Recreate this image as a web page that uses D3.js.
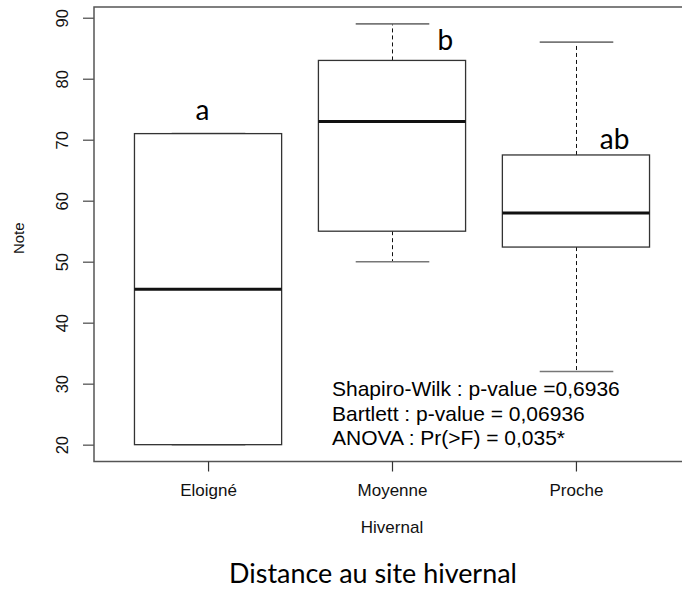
<!DOCTYPE html>
<html>
<head>
<meta charset="utf-8">
<script src="https://cdn.jsdelivr.net/npm/d3@7"></script>
<style>
  html, body { margin: 0; padding: 0; background: #fff; }
  svg { display: block; }
</style>
</head>
<body>
<svg id="chart" width="682" height="591"></svg>
<script>
// Groups along the x axis
const categories = ["Eloigné", "Moyenne", "Proche"];
// Five-number summaries of "Note" per group
const lowerWhisker = [20, 50, 32];
const lowerQuartile = [20, 55, 52.4];
const medians = [45.5, 73, 58];
const upperQuartile = [71, 83, 67.5];
const upperWhisker = [71, 89, 86];
// Y tick labels
const yTicks = [20, 30, 40, 50, 60, 70, 80, 90];
// Significance letters (Tukey groups) and where they sit, in data units
const letters = ["a", "b", "ab"];
const letterX = [0.97, 2.29, 3.21];
const letterY = [73.3, 84.7, 68.4];
// Test results written inside the plot
const statLines = [
  "Shapiro-Wilk : p-value =0,6936",
  "Bartlett : p-value = 0,06936",
  "ANOVA : Pr(>F) = 0,035*"
];
const xTitle = "Hivernal";
const yTitle = "Note";
const caption = "Distance au site hivernal";

const svg = d3.select("#chart");
const rFont = "'Liberation Sans', Arial, sans-serif";
const capFont = "Lato, 'Open Sans', sans-serif";

// Plot region (R-style 4% padding around [0.5, 3.5] and the data range)
const plotL = 94, plotR = 690, plotT = 7, plotB = 461.5;
const x = d3.scaleLinear().domain([0.38, 3.62]).range([plotL, plotR]);
const y = d3.scaleLinear().domain([17.24, 91.76]).range([plotB, plotT]);
const step = x(2) - x(1);
const boxW = step * 0.8;
const capW = boxW / 2;

const g = svg.append("g");

// Whiskers (dashed) and caps
categories.forEach((c, i) => {
  const cx = Math.round(x(i + 1)) + 0.5;
  if (upperWhisker[i] > upperQuartile[i]) {
    g.append("line").attr("x1", cx).attr("x2", cx)
      .attr("y1", y(upperQuartile[i])).attr("y2", y(upperWhisker[i]))
      .attr("stroke", "#111").attr("stroke-width", 1).attr("stroke-dasharray", "4,3");
  }
  if (lowerWhisker[i] < lowerQuartile[i]) {
    g.append("line").attr("x1", cx).attr("x2", cx)
      .attr("y1", y(lowerQuartile[i])).attr("y2", y(lowerWhisker[i]))
      .attr("stroke", "#111").attr("stroke-width", 1).attr("stroke-dasharray", "4,3");
  }
  [upperWhisker[i], lowerWhisker[i]].forEach(v => {
    g.append("line").attr("x1", cx - capW / 2).attr("x2", cx + capW / 2)
      .attr("y1", y(v)).attr("y2", y(v))
      .attr("stroke", "#777").attr("stroke-width", 1.6);
  });
});

// Boxes
g.selectAll("rect.box").data(categories).join("rect")
  .attr("class", "box")
  .attr("x", (d, i) => x(i + 1) - boxW / 2)
  .attr("width", boxW)
  .attr("y", (d, i) => y(upperQuartile[i]))
  .attr("height", (d, i) => y(lowerQuartile[i]) - y(upperQuartile[i]))
  .attr("fill", "#fff")
  .attr("stroke", "#333").attr("stroke-width", 1.3);

// Medians
g.selectAll("line.median").data(categories).join("line")
  .attr("class", "median")
  .attr("x1", (d, i) => x(i + 1) - boxW / 2)
  .attr("x2", (d, i) => x(i + 1) + boxW / 2)
  .attr("y1", (d, i) => y(medians[i]))
  .attr("y2", (d, i) => y(medians[i]))
  .attr("stroke", "#111").attr("stroke-width", 3);

// Frame
svg.append("rect")
  .attr("x", plotL).attr("y", plotT)
  .attr("width", plotR - plotL).attr("height", plotB - plotT)
  .attr("fill", "none").attr("stroke", "#555").attr("stroke-width", 1.5);

// Y axis
const yAxis = svg.append("g")
  .attr("transform", `translate(${plotL},0)`)
  .call(d3.axisLeft(y).tickValues(yTicks).tickSize(11).tickSizeOuter(0).tickFormat(d3.format("d")));
yAxis.select(".domain").remove();
yAxis.selectAll(".tick line").attr("stroke", "#555").attr("stroke-width", 1.3);
yAxis.selectAll(".tick text")
  .attr("x", null).attr("dy", null)
  .attr("transform", "translate(-26,0) rotate(-90)")
  .attr("text-anchor", "middle")
  .attr("font-family", rFont).attr("font-size", 16.5).attr("fill", "#111");

// X axis
const xAxis = svg.append("g")
  .attr("transform", `translate(0,${plotB})`)
  .call(d3.axisBottom(x).tickValues([1, 2, 3]).tickSize(10).tickSizeOuter(0)
    .tickFormat(d => categories[d - 1]));
xAxis.select(".domain").remove();
xAxis.selectAll(".tick line").attr("stroke", "#333").attr("stroke-width", 1.2);
xAxis.selectAll(".tick text")
  .attr("y", 34.5).attr("dy", null)
  .attr("font-family", rFont).attr("font-size", 17).attr("fill", "#111");

// Axis titles
svg.append("text")
  .attr("x", (plotL + plotR) / 2).attr("y", 533)
  .attr("text-anchor", "middle")
  .attr("font-family", rFont).attr("font-size", 17).attr("fill", "#111")
  .text(xTitle);
svg.append("text")
  .attr("transform", `translate(24,${(plotT + plotB) / 2 + 4}) rotate(-90)`)
  .attr("text-anchor", "middle")
  .attr("font-family", rFont).attr("font-size", 15).attr("fill", "#111")
  .text(yTitle);

// Group letters
svg.selectAll("text.letter").data(letters).join("text")
  .attr("class", "letter")
  .attr("x", (d, i) => x(letterX[i]))
  .attr("y", (d, i) => y(letterY[i]))
  .attr("text-anchor", "middle")
  .attr("font-family", capFont).attr("font-size", 28).attr("fill", "#000")
  .text(d => d);

// Test results
svg.selectAll("text.stat").data(statLines).join("text")
  .attr("class", "stat")
  .attr("x", 332)
  .attr("y", (d, i) => 396 + i * 24.5)
  .attr("font-family", rFont).attr("font-size", 21).attr("fill", "#000")
  .text(d => d);

// Caption under the chart, sized to its measured width
const cap = svg.append("text")
  .attr("x", 373).attr("y", 583)
  .attr("text-anchor", "middle")
  .attr("font-family", capFont).attr("font-size", 28).attr("fill", "#000")
  .text(caption);
const len = cap.node().getComputedTextLength();
if (len > 0) cap.attr("font-size", 28 * 288 / len);
</script>
</body>
</html>
